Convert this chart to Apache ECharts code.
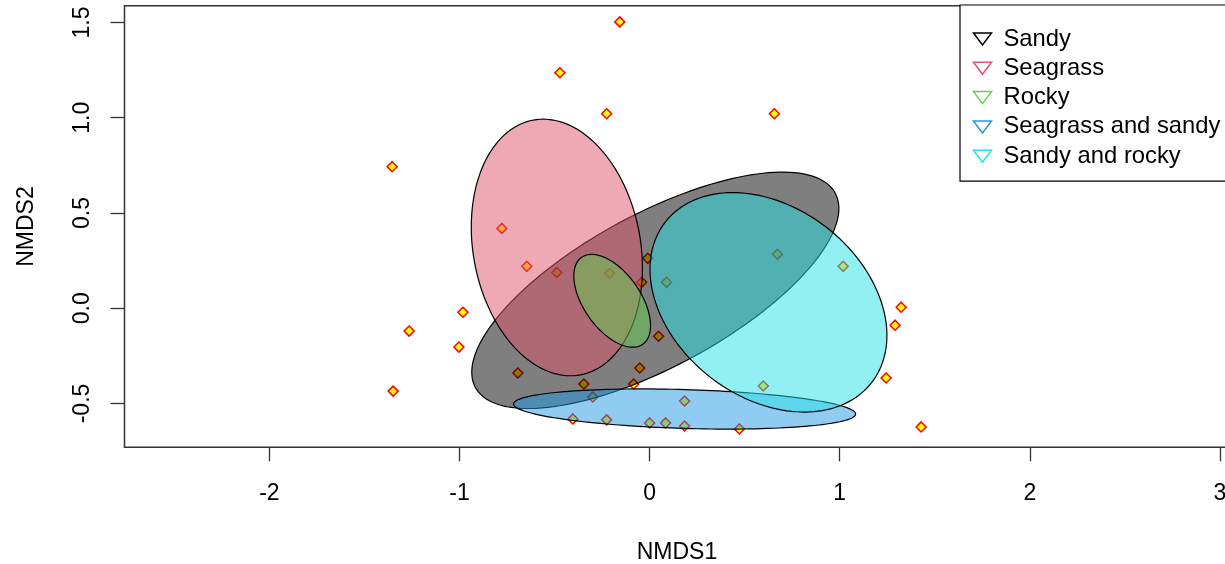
<!DOCTYPE html>
<html><head><meta charset="utf-8">
<script src="https://cdn.jsdelivr.net/npm/echarts@6/dist/echarts.min.js"></script>
<style>html,body{margin:0;padding:0;background:#fff}#c{width:1225px;height:564px}</style>
</head><body><div id="c"></div>
<script>
// Site scores (NMDS1, NMDS2)
const siteX = [-0.157,-0.472,-0.226,0.656,-1.354,-0.777,-0.646,-0.488,-0.210,-0.010,-0.042,0.089,0.672,1.018,1.323,1.291,1.244,1.428,0.472,0.598,0.184,0.047,-0.052,-0.084,-0.346,-0.693,-0.299,-0.404,-0.226,0.000,0.084,0.184,-0.982,-1.265,-1.003,-1.349];
const siteY = [1.503,1.236,1.021,1.021,0.743,0.419,0.220,0.188,0.183,0.262,0.136,0.136,0.283,0.220,0.005,-0.089,-0.366,-0.623,-0.634,-0.408,-0.487,-0.147,-0.314,-0.398,-0.398,-0.340,-0.466,-0.581,-0.586,-0.602,-0.602,-0.618,-0.021,-0.120,-0.204,-0.435];
// Habitat groups and their ellipses
const groupNames = ['Sandy','Seagrass','Rocky','Seagrass and sandy','Sandy and rocky'];
const groupColors = ['#000000','#DF536B','#61D04F','#2297E6','#28E2E5'];
const ellipseCx = [0.030,-0.488,-0.197,0.184,0.625];
const ellipseCy = [0.094,0.319,0.039,-0.529,0.031];
const ellipseA = [1.075,0.680,0.279,0.900,0.687];
const ellipseB = [0.402,0.440,0.149,0.102,0.498];
const ellipseAngle = [28.3,100.5,125.2,-1.7,-37.7];
// Axis ticks
const xTicks = [-2,-1,0,1,2,3];
const yTicks = [-0.5,0,0.5,1,1.5];

function hexToRgba(hex, a){
  const n = parseInt(hex.slice(1),16);
  return 'rgba('+((n>>16)&255)+','+((n>>8)&255)+','+(n&255)+','+a+')';
}
const FONT = 'Liberation Sans, Arial, sans-serif';

const chart = echarts.init(document.getElementById('c'), null, {renderer:'canvas'});

const series = [{
  type:'scatter',
  z:1,
  data: siteX.map((x,i)=>[x, siteY[i]]),
  symbol:'diamond',
  symbolSize:10,
  itemStyle:{color:'#FFFF00', borderColor:'#FF0000', borderWidth:1.5, opacity:1},
  silent:true
}];
groupNames.forEach((name,i)=>{
  series.push({
    type:'custom',
    name:name,
    z:2+i,
    silent:true,
    data:[[ellipseCx[i], ellipseCy[i], ellipseA[i], ellipseB[i], ellipseAngle[i]]],
    renderItem:function(params, api){
      const cx = api.value(0), cy = api.value(1), a = api.value(2), b = api.value(3);
      const th = api.value(4)*Math.PI/180;
      const pts = [];
      const N = 160;
      for(let k=0;k<N;k++){
        const t = 2*Math.PI*k/N;
        const x = cx + a*Math.cos(t)*Math.cos(th) - b*Math.sin(t)*Math.sin(th);
        const y = cy + a*Math.cos(t)*Math.sin(th) + b*Math.sin(t)*Math.cos(th);
        pts.push(api.coord([x,y]));
      }
      return {type:'polygon', shape:{points:pts},
        style:{fill:hexToRgba(groupColors[i],0.5), stroke:'#000', lineWidth:1.2}};
    },
    itemStyle:{color:groupColors[i]}
  });
});

chart.setOption({
  animation:false,
  backgroundColor:'#fff',
  grid:{left:124.5, top:5.7, width:1105, height:441.6, show:true, borderColor:'#333', borderWidth:1.5,
    containLabel:false, outerBoundsMode:'none'},
  xAxis:{
    type:'value', min:-2.762, max:3.05,
    name:'NMDS1', nameLocation:'middle', nameGap:94,
    nameTextStyle:{fontSize:23, color:'#000', fontFamily:FONT},
    axisLine:{show:false, onZero:false},
    axisTick:{show:true, inside:false, length:14, customValues:xTicks, lineStyle:{color:'#333', width:1.3}},
    axisLabel:{show:true, customValues:xTicks, margin:35, fontSize:23, color:'#000', fontFamily:FONT,
      formatter:v=>String(Math.round(v))},
    splitLine:{show:false}
  },
  yAxis:{
    type:'value', min:-0.730, max:1.588,
    name:'NMDS2', nameLocation:'middle', nameGap:86, nameRotate:90,
    nameTextStyle:{fontSize:23, color:'#000', fontFamily:FONT},
    axisLine:{show:false, onZero:false},
    axisTick:{show:true, inside:false, length:14, customValues:yTicks, lineStyle:{color:'#333', width:1.3}},
    axisLabel:{show:true, customValues:yTicks, margin:30, rotate:90, fontSize:23, color:'#000', fontFamily:FONT,
      formatter:v=>v.toFixed(1)},
    splitLine:{show:false}
  },
  legend:{
    orient:'vertical', left:960, top:5,
    padding:[22,24,13,11],
    itemWidth:32, itemHeight:12, itemGap:5.3,
    borderColor:'#000', borderWidth:1.2, backgroundColor:'#fff',
    selectedMode:false,
    textStyle:{fontSize:23.8, color:'#000', fontFamily:FONT},
    data: groupNames.map((n,i)=>({name:n, icon:'path://M0,0 L18,0 L9,12 Z',
      itemStyle:{color:'none', borderColor:groupColors[i], borderWidth:1.5}}))
  },
  series:series
});
</script></body></html>
